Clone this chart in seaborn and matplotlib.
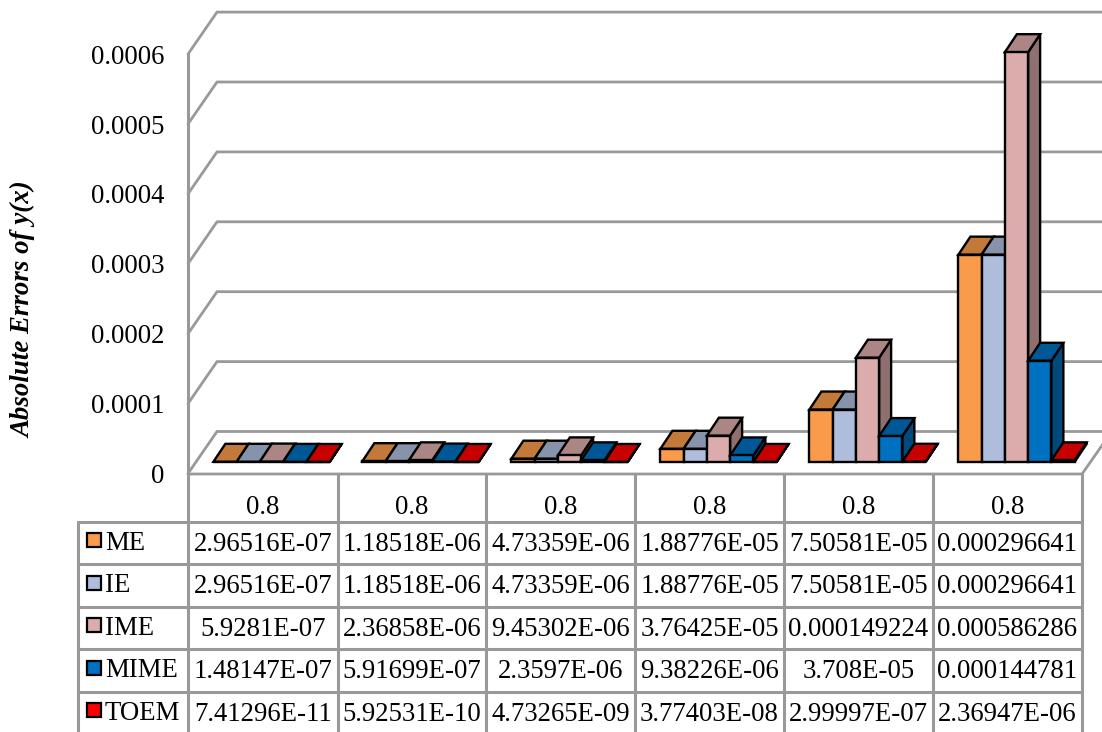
import numpy as np
import pandas as pd
import matplotlib.pyplot as plt
import seaborn as sns
from matplotlib.colors import to_rgb
from matplotlib.patches import Polygon, Rectangle

sns.set_theme(style="white")
plt.rcParams['font.family'] = ['Liberation Serif', 'DejaVu Serif']

methods = ['ME', 'IE', 'IME', 'MIME', 'TOEM']
header = ['0.8', '0.8', '0.8', '0.8', '0.8', '0.8']
me_vals = ['2.96516E-07', '1.18518E-06', '4.73359E-06', '1.88776E-05', '7.50581E-05', '0.000296641']
ie_vals = ['2.96516E-07', '1.18518E-06', '4.73359E-06', '1.88776E-05', '7.50581E-05', '0.000296641']
ime_vals = ['5.9281E-07', '2.36858E-06', '9.45302E-06', '3.76425E-05', '0.000149224', '0.000586286']
mime_vals = ['1.48147E-07', '5.91699E-07', '2.3597E-06', '9.38226E-06', '3.708E-05', '0.000144781']
toem_vals = ['7.41296E-11', '5.92531E-10', '4.73265E-09', '3.77403E-08', '2.99997E-07', '2.36947E-06']
rows = [me_vals, ie_vals, ime_vals, mime_vals, toem_vals]
y_ticks = [0, 0.0001, 0.0002, 0.0003, 0.0004, 0.0005, 0.0006]
colors = {'ME': '#F99B4A', 'IE': '#ADBDDB', 'IME': '#DCABAB', 'MIME': '#0070C0', 'TOEM': '#FF0000'}

W, H = 1102, 732
GREY = '#999999'
FS = 19.3
col_x = [188, 337.5, 486, 635, 784, 933, 1082]
row_y = [474, 521.5, 564, 606.5, 649, 691.5, 734]
px_per_unit = 699000

df = pd.DataFrame({
    'group': [g for g in range(6) for m in methods],
    'method': [m for g in range(6) for m in methods],
    'value': [float(rows[i][g]) for g in range(6) for i in range(5)],
})

fig = plt.figure(figsize=(W / 100, H / 100), dpi=100)

# layer under the bars: walls, floor and the data table, in pixels
bg = fig.add_axes([0, 0, 1, 1])
bg.set_xlim(0, W)
bg.set_ylim(H, 0)
bg.axis('off')

for t in y_ticks:
    front = 473.5 - t * px_per_unit
    back = 431.5 - t * px_per_unit
    bg.plot([188, 217, W + 5], [front, back, back], color=GREY, lw=2, solid_joinstyle='miter')
    bg.text(164, front + 3, f'{t:g}', ha='right', va='center', fontsize=FS, color='black')
bg.plot([188, 188], [473.5 - 0.0006 * px_per_unit, 734], color=GREY, lw=2.2)
bg.plot([188, 1082, 1110], [474, 474, 434], color=GREY, lw=2)

# data table
bg.plot([78, 78], [row_y[1], 734], color=GREY, lw=2.2)
for x in col_x[1:]:
    bg.plot([x, x], [row_y[0], 734], color=GREY, lw=2.2)
for y in row_y[1:-1]:
    bg.plot([78, col_x[-1]], [y, y], color=GREY, lw=2.2)
for j, h in enumerate(header):
    bg.text((col_x[j] + col_x[j + 1]) / 2, 508, h, ha='center', va='center', fontsize=FS, color='black')
for i, m in enumerate(methods):
    yc = (row_y[i + 1] + row_y[i + 2]) / 2
    bg.add_patch(Rectangle((87, yc - 9.5), 14, 14, fc=colors[m], ec='black', lw=1.6))
    bg.text(105, yc + 0.5, m, ha='left', va='center', fontsize=FS, color='black')
    for j, v in enumerate(rows[i]):
        bg.text((col_x[j] + col_x[j + 1]) / 2, yc + 1.5, v, ha='center', va='center', fontsize=FS, color='black')

bg.text(24, 310, 'Absolute Errors of y(x)', rotation=90, ha='center', va='center',
        fontsize=19.4, fontweight='bold', fontstyle='italic', color='black')

# bars, with the depth faces worked out from each seaborn patch
left, right = 197, 1091
bottom, top = 462, 462 - 0.0006 * px_per_unit
ax = fig.add_axes([left / W, 1 - bottom / H, (right - left) / W, (bottom - top) / H])
ax.patch.set_alpha(0)
sns.barplot(data=df, x='group', y='value', hue='method', hue_order=methods, palette=colors,
            width=0.78, gap=0, saturation=1, edgecolor='black', linewidth=1.7,
            legend=False, ax=ax)
ax.set_xlim(-0.5, 5.5)
ax.set_ylim(0, 0.0006)
ax.axis('off')

dx = 12 / ((right - left) / 6)
dy = 18 / px_per_unit
for i, cont in enumerate(ax.containers):
    col = np.array(to_rgb(colors[methods[i]]))
    for g, bar in enumerate(cont):
        x0, w, h = bar.get_x(), bar.get_width(), bar.get_height()
        z = 10 + g * 20 + i * 3
        bar.set_zorder(z + 2)
        bar.set_clip_on(False)
        bar.set_joinstyle('miter')
        side = [(x0 + w, 0), (x0 + w + dx, dy), (x0 + w + dx, h + dy), (x0 + w, h)]
        roof = [(x0, h), (x0 + dx, h + dy), (x0 + w + dx, h + dy), (x0 + w, h)]
        ax.add_patch(Polygon(side, fc=col * 0.65, ec='black', lw=1.7, zorder=z, clip_on=False))
        ax.add_patch(Polygon(roof, fc=col * 0.78, ec='black', lw=1.7, zorder=z + 1, clip_on=False))

fig.savefig('out.png', dpi=100)
